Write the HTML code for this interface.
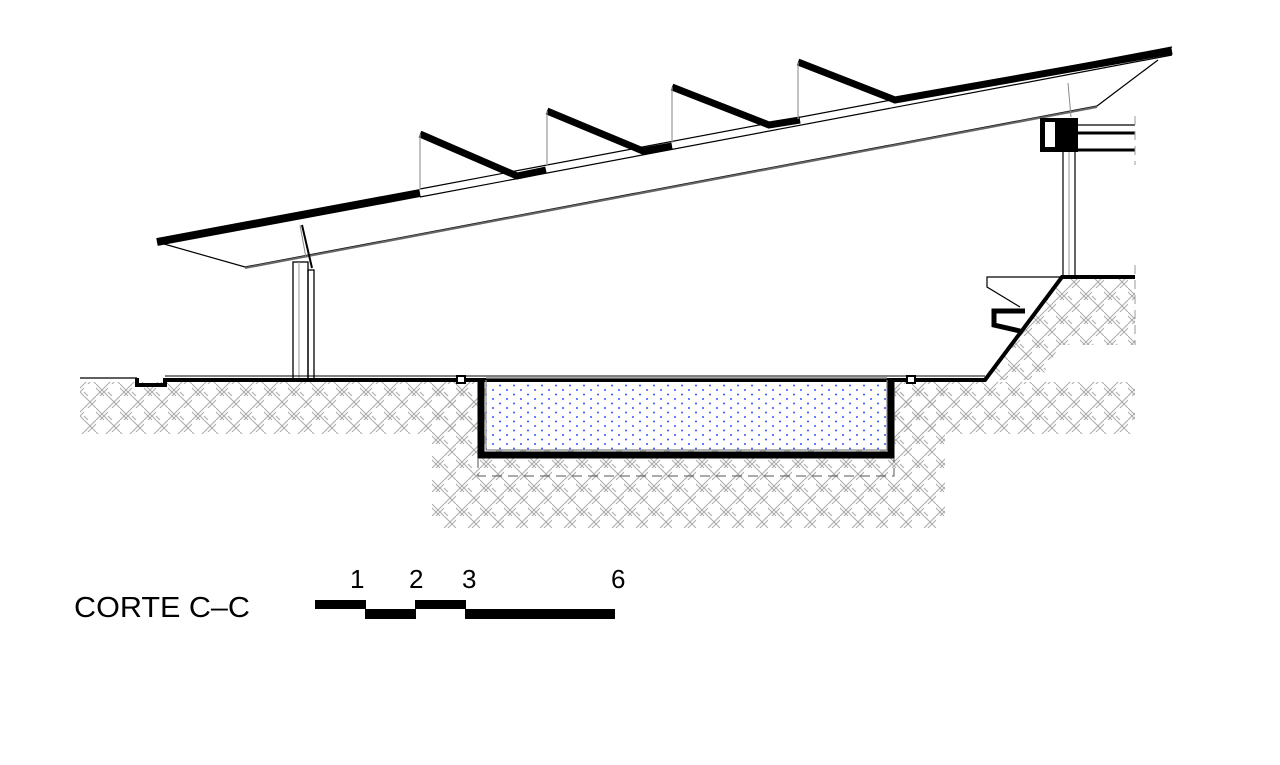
<!DOCTYPE html>
<html><head><meta charset="utf-8"><style>html,body{margin:0;padding:0;background:#fff}svg{display:block}</style></head>
<body>
<svg width="1280" height="765" viewBox="0 0 1280 765" xmlns="http://www.w3.org/2000/svg">
<defs>
<pattern id="h" width="24" height="24" patternUnits="userSpaceOnUse">
<g stroke="#aaa" stroke-width="1" fill="none">
<path d="M0 12 L12 0 M4 12 L12 4 M12 24 L24 12 M16 24 L24 16"/>
<path d="M12 12 L24 24 M12 8 L16 12 M0 0 L12 12 M0 4 L8 12"/>
</g>
</pattern>
<pattern id="d" width="14" height="9" patternUnits="userSpaceOnUse">
<circle cx="3" cy="3" r="1" fill="#3355ff"/>
<circle cx="10" cy="7.5" r="1" fill="#3355ff"/>
</pattern>
</defs>
<rect x="80" y="382" width="400" height="52" fill="url(#h)"/>
<rect x="432" y="382" width="513" height="146" fill="url(#h)"/>
<rect x="893" y="382" width="242" height="52" fill="url(#h)"/>
<polygon points="985,380 1062,279 1135,279 1135,345 1060,345 1040,380" fill="url(#h)"/>
<rect x="486" y="380" width="401" height="70" fill="#fff"/>
<rect x="486" y="380" width="401" height="70" fill="url(#d)"/>

<g fill="none" stroke="#000">
<line x1="157" y1="242" x2="420" y2="193" stroke-width="8"/>
<line x1="420" y1="189" x2="1172" y2="47" stroke-width="1.2"/>
<line x1="420" y1="197" x2="1172" y2="55" stroke-width="1.2"/>
<polyline points="420,134 517,176 546,170" stroke-width="7"/>
<polyline points="547,111 643,151 672,146" stroke-width="7"/>
<polyline points="672,87 769,125 800,120" stroke-width="7"/>
<polyline points="798,62 895,100 1172,51" stroke-width="7"/>
<g stroke="#999" stroke-width="1.2">
<line x1="420" y1="134" x2="420" y2="190"/>
<line x1="547" y1="111" x2="547" y2="166"/>
<line x1="672" y1="87" x2="672" y2="143"/>
<line x1="798" y1="62" x2="798" y2="119"/>
</g>
<polyline points="157,242 245,267 1097,106 1158,60" stroke-width="1.2"/>
<line x1="245" y1="268" x2="1097" y2="107" stroke="#666" stroke-width="2"/>
<rect x="293" y="262" width="15" height="117" stroke-width="1.3"/>
<line x1="299" y1="262" x2="299" y2="379" stroke="#999" stroke-width="1"/>
<rect x="308" y="270" width="6" height="109" stroke-width="1.3"/>
<line x1="300" y1="225" x2="306" y2="258" stroke="#888"/>
<line x1="302" y1="225" x2="312" y2="268" stroke-width="2"/>
<rect x="1063" y="150" width="12" height="127" stroke-width="1.2"/>
<line x1="1069" y1="150" x2="1069" y2="277" stroke="#999"/>
<line x1="1068" y1="83" x2="1071" y2="117" stroke="#888"/>
<line x1="1078" y1="125" x2="1135" y2="125" stroke-width="1.2"/>
<line x1="1078" y1="133" x2="1135" y2="133" stroke-width="3"/>
<line x1="1078" y1="150" x2="1135" y2="150" stroke-width="3"/>
<polyline points="1042,120 1042,150 1078,150" stroke-width="4"/>
<line x1="1135" y1="116" x2="1135" y2="165" stroke="#999" stroke-dasharray="9,6"/>
<line x1="1135" y1="265" x2="1135" y2="345" stroke="#999" stroke-dasharray="9,6"/>
<polyline points="80,378 137,378" stroke-width="1.2"/>
<polyline points="137,378 137,385 165,385 165,380 985,380 1062,277 1135,277" stroke-width="4"/>
<line x1="165" y1="376" x2="985" y2="376" stroke-width="1"/>
<!-- bench -->
<polyline points="1062,277 987,277 987,287 1020,307" stroke-width="1.2"/>
<polyline points="1025,311 994,311 994,325 1020,331" stroke-width="5"/>
<polyline points="481,378 481,455 891,455 891,378" stroke-width="7"/>
<polyline points="486,380 486,450 887,450 887,380" stroke="#888" stroke-width="1.2"/>
<line x1="486" y1="378" x2="887" y2="378" stroke="#888" stroke-width="1.5"/>
<polyline points="478,458 478,476 894,476 894,458" stroke="#555" stroke-width="1" stroke-dasharray="10,6"/>
</g>
<g fill="#fff" stroke="#000" stroke-width="2">
<rect x="457" y="376" width="8" height="7"/>
<rect x="907" y="376" width="8" height="7"/>
</g>
<rect x="1040" y="118" width="38" height="32" fill="#000"/>
<rect x="1045" y="122" width="10" height="25" fill="#fff"/>
<line x1="1042" y1="118" x2="1042" y2="150" stroke="#000" stroke-width="4"/>

<text x="74" y="617" font-family="Liberation Sans, sans-serif" font-size="29" textLength="176" lengthAdjust="spacingAndGlyphs" fill="#000">CORTE  C–C</text>
<g fill="#000">
<rect x="315" y="600" width="51" height="9"/>
<rect x="365" y="609" width="51" height="10"/>
<rect x="415" y="600" width="51" height="9"/>
<rect x="465" y="609" width="150" height="10"/>
</g>
<g font-family="Liberation Sans, sans-serif" font-size="26" fill="#000">
<text x="350" y="588">1</text>
<text x="409" y="588">2</text>
<text x="462" y="588">3</text>
<text x="611" y="588">6</text>
</g>
</svg>
</body></html>
